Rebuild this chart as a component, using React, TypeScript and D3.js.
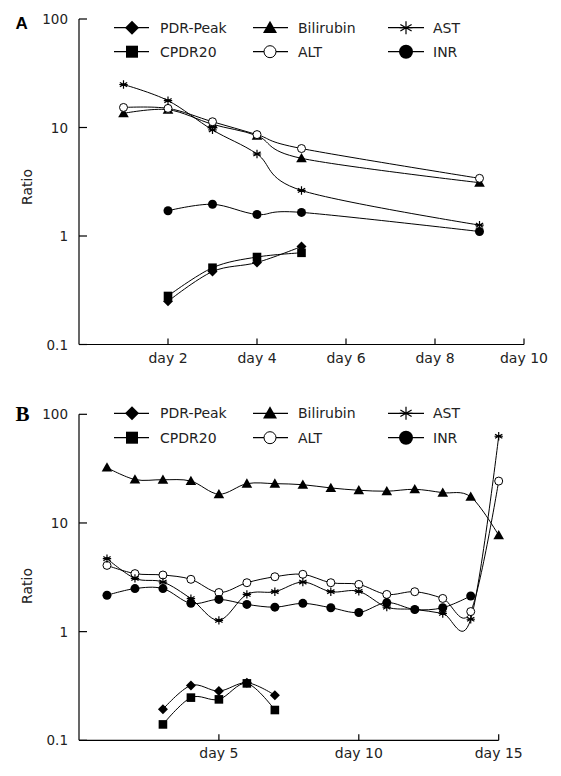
import React from "react";
import * as d3 from "d3";

// ---------- DATA ----------
const seriesNames = ["PDR-Peak", "CPDR20", "Bilirubin", "ALT", "AST", "INR"];
const legendRow1 = ["PDR-Peak", "Bilirubin", "AST"];
const legendRow2 = ["CPDR20", "ALT", "INR"];

const yTicks = [100, 10, 1, 0.1];

// Panel A
const daysA = [1, 2, 3, 4, 5, 9];
const xTicksA = [2, 4, 6, 8, 10];
const pdrPeakA = [null, 0.25, 0.47, 0.57, 0.8, null];
const cpdr20A = [null, 0.28, 0.51, 0.64, 0.7, null];
const bilirubinA = [13.5, 14.6, 10.7, 8.4, 5.2, 3.1];
const altA = [15.3, 15, 11.3, 8.6, 6.4, 3.4];
const astA = [24.9, 17.7, 9.5, 5.7, 2.63, 1.26];
const inrA = [null, 1.71, 1.96, 1.58, 1.65, 1.1];

// Panel B
const daysB = [1, 2, 3, 4, 5, 6, 7, 8, 9, 10, 11, 12, 13, 14, 15];
const xTicksB = [5, 10, 15];
const pdrPeakB = [null, null, 0.193, 0.32, 0.284, 0.339, 0.26, null, null, null, null, null, null, null, null];
const cpdr20B = [null, null, 0.14, 0.247, 0.238, 0.334, 0.19, null, null, null, null, null, null, null, null];
const bilirubinB = [32.3, 25.1, 25, 24.3, 18.4, 23, 23, 22.5, 21, 20, 19.6, 20.4, 19, 17.4, 7.7];
const altB = [4.07, 3.42, 3.32, 3.03, 2.29, 2.82, 3.2, 3.37, 2.82, 2.72, 2.2, 2.33, 2.02, 1.53, 24.3];
const astB = [4.7, 3.09, 2.86, 2.01, 1.27, 2.2, 2.33, 2.86, 2.33, 2.35, 1.68, 1.6, 1.47, 1.3, 62.8];
const inrB = [2.16, 2.49, 2.49, 1.82, 1.98, 1.78, 1.68, 1.82, 1.66, 1.5, 1.85, 1.6, 1.66, 2.13, null];

const valuesA: Record<string, (number | null)[]> = {
  "PDR-Peak": pdrPeakA, CPDR20: cpdr20A, Bilirubin: bilirubinA, ALT: altA, AST: astA, INR: inrA,
};
const valuesB: Record<string, (number | null)[]> = {
  "PDR-Peak": pdrPeakB, CPDR20: cpdr20B, Bilirubin: bilirubinB, ALT: altB, AST: astB, INR: inrB,
};

const FONT = "DejaVu Sans, Verdana, sans-serif";

function Marker({ name, x, y, s }: { name: string; x: number; y: number; s: number }) {
  switch (name) {
    case "PDR-Peak":
      return <path d={`M${x},${y - s}L${x + s},${y}L${x},${y + s}L${x - s},${y}Z`} fill="#000" />;
    case "CPDR20":
      return <rect x={x - s} y={y - s} width={2 * s} height={2 * s} fill="#000" />;
    case "Bilirubin":
      return <path d={`M${x},${y - s}L${x + s},${y + s * 0.75}L${x - s},${y + s * 0.75}Z`} fill="#000" />;
    case "ALT":
      return <circle cx={x} cy={y} r={s} fill="#fff" stroke="#000" strokeWidth={1} />;
    case "INR":
      return <circle cx={x} cy={y} r={s} fill="#000" />;
    case "AST": {
      const arms = [90, 30, 150, 0].map((a) => {
        const rad = (a * Math.PI) / 180;
        return `M${x - s * Math.cos(rad)},${y - s * Math.sin(rad)}L${x + s * Math.cos(rad)},${y + s * Math.sin(rad)}`;
      });
      return <path d={arms.join("")} stroke="#000" strokeWidth={1.2} fill="none" />;
    }
  }
  return null;
}

const dataMarker: Record<string, number> = {
  "PDR-Peak": 5, CPDR20: 4.3, Bilirubin: 5.3, ALT: 4, INR: 4.5, AST: 4.2,
};
const legendMarker: Record<string, number> = {
  "PDR-Peak": 7, CPDR20: 6, Bilirubin: 7, ALT: 6, INR: 7, AST: 6.5,
};
const legendCols = [
  { lx1: 114, lx2: 149, mx: 132, tx: 160 },
  { lx1: 253, lx2: 288, mx: 270, tx: 298 },
  { lx1: 388, lx2: 424, mx: 406, tx: 433 },
];

function Panel({
  letter, letterFont, letterSize, letterY, top, bottom, xMax, xRight, xTicks, days, values, legendY1, legendY2, ratioY, tickLabelY,
}: any) {
  const x = d3.scaleLinear().domain([0, xMax]).range([79, xRight]);
  const y = d3.scaleLog().domain([0.1, 100]).range([bottom, top]);
  const line = d3
    .line<[number, number | null]>()
    .defined((d) => d[1] != null)
    .x((d) => x(d[0]))
    .y((d) => y(d[1] as number))
    .curve(d3.curveCardinal.tension(0));

  return (
    <g>
      <text x={15.5} y={letterY} fontFamily={letterFont} fontWeight="bold" fontSize={letterSize}>
        {letter}
      </text>
      <line x1={x(0)} x2={x(0)} y1={y(100)} y2={y(0.1)} stroke="#000" strokeWidth={1.2} />
      <line x1={x(0)} x2={x(xMax)} y1={y(0.1)} y2={y(0.1)} stroke="#000" strokeWidth={1.2} />
      {yTicks.map((t) => (
        <g key={t}>
          <line x1={x(0)} x2={x(0) + 8} y1={y(t)} y2={y(t)} stroke="#000" strokeWidth={1.2} />
          <text x={68} y={y(t) + 5} textAnchor="end" fontFamily={FONT} fontSize={13.5} fill="#222">
            {t}
          </text>
        </g>
      ))}
      {xTicks.map((t: number) => (
        <g key={t}>
          <line x1={x(t)} x2={x(t)} y1={y(0.1)} y2={y(0.1) - 6} stroke="#000" strokeWidth={1.2} />
          <text x={x(t)} y={tickLabelY} textAnchor="middle" fontFamily={FONT} fontSize={14} fill="#222">
            {"day " + t}
          </text>
        </g>
      ))}
      <text
        transform={`translate(32,${ratioY}) rotate(-90)`}
        textAnchor="middle"
        fontFamily={FONT}
        fontSize={14}
        fill="#222"
      >
        Ratio
      </text>
      {seriesNames.map((name) => {
        const pts: [number, number | null][] = days.map((dd: number, i: number) => [dd, values[name][i]]);
        return <path key={name} d={line(pts) || ""} fill="none" stroke="#000" strokeWidth={1} />;
      })}
      {seriesNames.map((name) =>
        days.map((dd: number, i: number) => {
          const v = values[name][i];
          if (v == null) return null;
          return <Marker key={name + i} name={name} x={x(dd)} y={y(v)} s={dataMarker[name]} />;
        })
      )}
      {[legendRow1, legendRow2].map((row, ri) =>
        row.map((name, ci) => {
          const c = legendCols[ci];
          const ly = ri === 0 ? legendY1 : legendY2;
          return (
            <g key={name}>
              <line x1={c.lx1} x2={c.lx2} y1={ly} y2={ly} stroke="#000" strokeWidth={1.2} />
              <Marker name={name} x={c.mx} y={ly} s={legendMarker[name]} />
              <text x={c.tx} y={ly + 5} fontFamily={FONT} fontSize={14} fill="#222">
                {name}
              </text>
            </g>
          );
        })
      )}
    </g>
  );
}

export default function App() {
  return (
    <svg width={561} height={776} style={{ position: "absolute", left: 0, top: 0, background: "#fff" }}>
      <rect width={561} height={776} fill="#fff" />
      <Panel
        letter="A"
        letterFont="Liberation Sans, Arial, sans-serif"
        letterSize={17}
        letterY={29}
        top={19}
        bottom={344.5}
        xMax={10}
        xRight={524}
        xTicks={xTicksA}
        days={daysA}
        values={valuesA}
        legendY1={27.7}
        legendY2={51.7}
        ratioY={187}
        tickLabelY={363}
      />
      <Panel
        letter="B"
        letterFont="Liberation Serif, Times New Roman, serif"
        letterSize={21}
        letterY={421}
        top={414.3}
        bottom={740.3}
        xMax={15}
        xRight={498.7}
        xTicks={xTicksB}
        days={daysB}
        values={valuesB}
        legendY1={413.3}
        legendY2={437.7}
        ratioY={586}
        tickLabelY={758}
      />
    </svg>
  );
}
